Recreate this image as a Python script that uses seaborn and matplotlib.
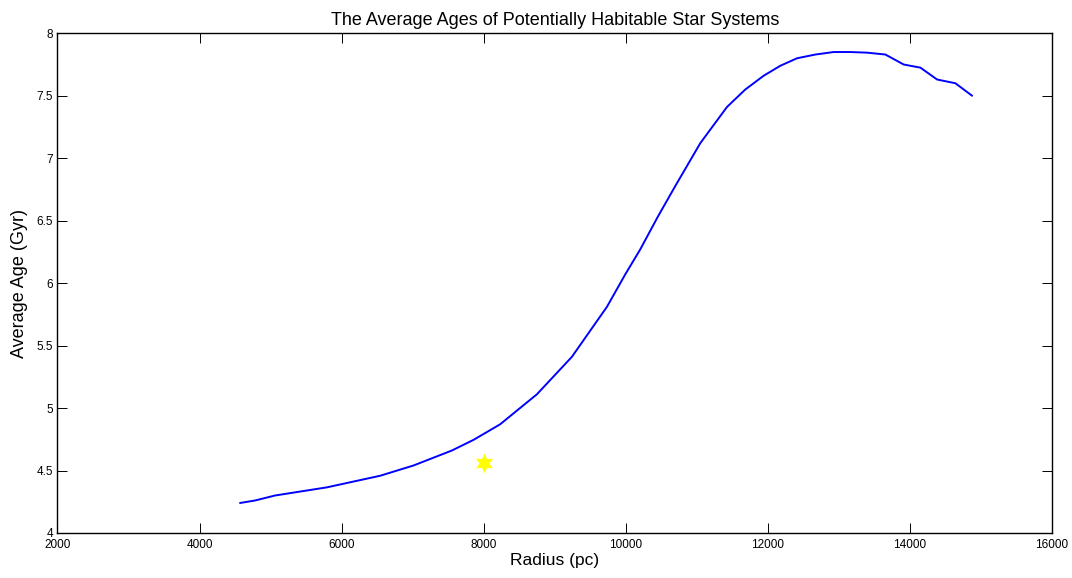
import matplotlib
matplotlib.use("Agg")
import matplotlib.pyplot as plt
import seaborn as sns
import pandas as pd

radius = [4570, 4781, 5063, 5791, 6542, 7011, 7552, 7856, 8232, 8749, 9242,
          9476, 9735, 9993, 10204, 10450, 10700, 11049, 11425, 11683, 11941,
          12176, 12411, 12669, 12927, 13162, 13397, 13655, 13913, 14148,
          14383, 14641, 14876]
avg_age = [4.24, 4.26, 4.30, 4.365, 4.458, 4.54, 4.66, 4.745, 4.87, 5.11, 5.41,
           5.60, 5.81, 6.07, 6.27, 6.53, 6.78, 7.12, 7.41, 7.55, 7.66,
           7.74, 7.80, 7.83, 7.85, 7.85, 7.845, 7.83, 7.75, 7.725,
           7.63, 7.60, 7.50]
sun_radius = [8000]
sun_age = [4.56]

xticks = [2000, 4000, 6000, 8000, 10000, 12000, 14000, 16000]
yticks = [4, 4.5, 5, 5.5, 6, 6.5, 7, 7.5, 8]
ytick_labels = ["4", "4.5", "5", "5.5", "6", "6.5", "7", "7.5", "8"]

sns.set_style("ticks")
plt.rcParams['font.family'] = ['Liberation Sans', 'DejaVu Sans']
plt.rcParams['xtick.direction'] = 'in'
plt.rcParams['ytick.direction'] = 'in'
plt.rcParams['text.color'] = 'black'
plt.rcParams['axes.labelcolor'] = 'black'

fig = plt.figure(figsize=(10.72, 5.78), dpi=100)
ax = fig.add_axes([0.0536, 0.0779, 0.9277, 0.8645])

df = pd.DataFrame({"Radius": radius, "Age": avg_age})
sns.lineplot(data=df, x="Radius", y="Age", ax=ax, color=(0, 0, 1), linewidth=1.4)
sns.scatterplot(x=sun_radius, y=sun_age, ax=ax, marker=(6, 1, 0), s=170,
                color=(1, 1, 0), edgecolor=(1, 1, 0), linewidth=0.5, zorder=5)

ax.set_xlim(2000, 16000)
ax.set_ylim(4, 8)
ax.set_xticks(xticks)
ax.set_xticklabels([str(t) for t in xticks])
ax.set_yticks(yticks)
ax.set_yticklabels(ytick_labels)
ax.tick_params(axis='both', which='both', direction='in', length=7, width=0.7,
               labelsize=8.5, top=True, right=True, colors='black')
ax.tick_params(axis='x', pad=4)
ax.tick_params(axis='y', pad=3)
for s in ax.spines.values():
    s.set_visible(True)
    s.set_linewidth(1.0)
    s.set_color('black')

ax.set_title("The Average Ages of Potentially Habitable Star Systems", fontsize=13, pad=6, color='black')
ax.set_xlabel("Radius (pc)", fontsize=12.5, labelpad=2, color='black')
ax.set_ylabel("Average Age (Gyr)", fontsize=13, labelpad=6, color='black')

fig.savefig("out.png", dpi=100, facecolor='white')
